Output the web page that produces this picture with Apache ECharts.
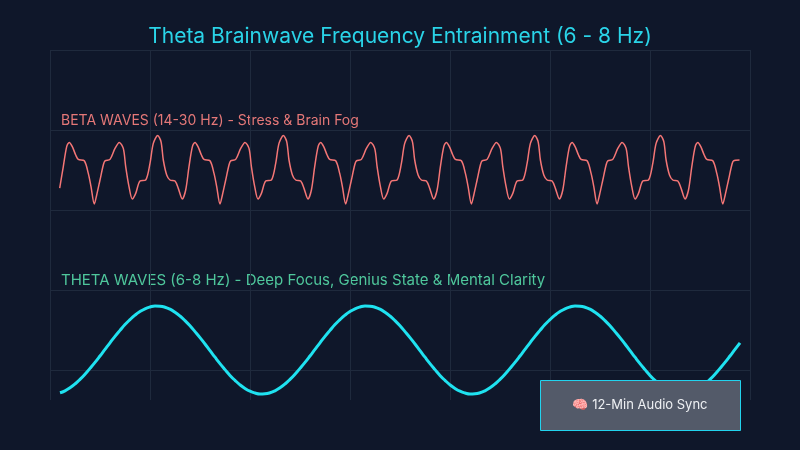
<!DOCTYPE html>
<html>
<head>
<meta charset="utf-8">
<title>Theta Brainwave Frequency Entrainment</title>
<script src="https://cdn.jsdelivr.net/npm/echarts@6/dist/echarts.min.js"></script>
<style>
  html, body { margin: 0; padding: 0; background: #0f172a; }
  #chart { width: 800px; height: 450px; }
</style>
</head>
<body>
<div id="chart"></div>
<script>
// texts
const titleText = 'Theta Brainwave Frequency Entrainment (6 - 8 Hz)';
const betaLabel = 'BETA WAVES (14-30 Hz) - Stress & Brain Fog';
const thetaLabel = 'THETA WAVES (6-8 Hz) - Deep Focus, Genius State & Mental Clarity';
const buttonLabel = '🧠 12-Min Audio Sync';

// [time, level]
const betaWave = [
  [9.7, 9.09], [13.3, 10.17], [16.7, 11.17],
  [19.3, 11.38], [22.3, 11.17], [25.7, 10.75], [28.3, 10.53], [34.3, 10.46], [38.3, 9.83], [41.0, 9.17], [44.3, 8.3],
  [46.7, 8.75], [50.0, 9.5], [53.3, 10.25], [55.0, 10.46], [60.0, 10.53], [65.0, 11.08], [69.3, 11.38], [73.3, 11.08],
  [75.7, 10.17], [79.0, 9.17], [82.3, 8.55], [85.7, 8.83], [90.0, 9.45], [95.7, 9.5], [100.0, 10.33], [103.3, 11.33],
  [107.7, 11.72], [111.0, 11.42], [113.3, 10.5], [116.7, 9.75], [120.0, 9.5], [125.0, 9.45], [128.3, 9.08], [132.3, 8.55],
  [135.7, 9.0], [139.0, 10.17], [142.4, 11.17],
  [145.0, 11.38], [148.0, 11.17], [151.4, 10.75], [154.0, 10.53], [160.0, 10.46], [164.0, 9.83], [166.7, 9.17], [170.0, 8.3],
  [172.4, 8.75], [175.7, 9.5], [179.0, 10.25], [180.7, 10.46], [185.7, 10.53], [190.7, 11.08], [195.0, 11.38], [199.0, 11.08],
  [201.4, 10.17], [204.7, 9.17], [208.0, 8.55], [211.4, 8.83], [215.7, 9.45], [221.4, 9.5], [225.7, 10.33], [229.0, 11.33],
  [233.4, 11.72], [236.7, 11.42], [239.0, 10.5], [242.4, 9.75], [245.7, 9.5], [250.7, 9.45], [254.0, 9.08], [258.0, 8.55],
  [261.4, 9.0], [264.7, 10.17], [268.1, 11.17],
  [270.7, 11.38], [273.7, 11.17], [277.1, 10.75], [279.7, 10.53], [285.7, 10.46], [289.7, 9.83], [292.4, 9.17], [295.7, 8.3],
  [298.1, 8.75], [301.4, 9.5], [304.7, 10.25], [306.4, 10.46], [311.4, 10.53], [316.4, 11.08], [320.7, 11.38], [324.7, 11.08],
  [327.1, 10.17], [330.4, 9.17], [333.7, 8.55], [337.1, 8.83], [341.4, 9.45], [347.1, 9.5], [351.4, 10.33], [354.7, 11.33],
  [359.1, 11.72], [362.4, 11.42], [364.7, 10.5], [368.1, 9.75], [371.4, 9.5], [376.4, 9.45], [379.7, 9.08], [383.7, 8.55],
  [387.1, 9.0], [390.4, 10.17], [393.8, 11.17],
  [396.4, 11.38], [399.4, 11.17], [402.8, 10.75], [405.4, 10.53], [411.4, 10.46], [415.4, 9.83], [418.1, 9.17], [421.4, 8.3],
  [423.8, 8.75], [427.1, 9.5], [430.4, 10.25], [432.1, 10.46], [437.1, 10.53], [442.1, 11.08], [446.4, 11.38], [450.4, 11.08],
  [452.8, 10.17], [456.1, 9.17], [459.4, 8.55], [462.8, 8.83], [467.1, 9.45], [472.8, 9.5], [477.1, 10.33], [480.4, 11.33],
  [484.8, 11.72], [488.1, 11.42], [490.4, 10.5], [493.8, 9.75], [497.1, 9.5], [502.1, 9.45], [505.4, 9.08], [509.4, 8.55],
  [512.8, 9.0], [516.1, 10.17], [519.5, 11.17],
  [522.1, 11.38], [525.1, 11.17], [528.5, 10.75], [531.1, 10.53], [537.1, 10.46], [541.1, 9.83], [543.8, 9.17], [547.1, 8.3],
  [549.5, 8.75], [552.8, 9.5], [556.1, 10.25], [557.8, 10.46], [562.8, 10.53], [567.8, 11.08], [572.1, 11.38], [576.1, 11.08],
  [578.5, 10.17], [581.8, 9.17], [585.1, 8.55], [588.5, 8.83], [592.8, 9.45], [598.5, 9.5], [602.8, 10.33], [606.1, 11.33],
  [610.5, 11.72], [613.8, 11.42], [616.1, 10.5], [619.5, 9.75], [622.8, 9.5], [627.8, 9.45], [631.1, 9.08], [635.1, 8.55],
  [638.5, 9.0], [641.8, 10.17], [645.2, 11.17],
  [647.8, 11.38], [650.8, 11.17], [654.2, 10.75], [656.8, 10.53], [662.8, 10.46], [666.8, 9.83], [669.5, 9.17], [672.8, 8.3],
  [675.2, 8.75], [678.5, 9.5], [681.8, 10.25], [683.5, 10.46], [689.5, 10.5]
];

// theta sampled every 5 time units
const thetaTime = [
  10, 15, 20, 25, 30, 35, 40, 45, 50, 55, 60, 65, 70, 75, 80, 85, 90, 95, 100, 105, 110,
  115, 120, 125, 130, 135, 140, 145, 150, 155, 160, 165, 170, 175, 180, 185, 190, 195, 200, 205, 210, 215,
  220, 225, 230, 235, 240, 245, 250, 255, 260, 265, 270, 275, 280, 285, 290, 295, 300, 305, 310, 315, 320,
  325, 330, 335, 340, 345, 350, 355, 360, 365, 370, 375, 380, 385, 390, 395, 400, 405, 410, 415, 420, 425,
  430, 435, 440, 445, 450, 455, 460, 465, 470, 475, 480, 485, 490, 495, 500, 505, 510, 515, 520, 525, 530,
  535, 540, 545, 550, 555, 560, 565, 570, 575, 580, 585, 590, 595, 600, 605, 610, 615, 620, 625, 630, 635,
  640, 645, 650, 655, 660, 665, 670, 675, 680, 685, 690
];
const thetaLevel = [
  -1.14, -1.04, -0.89, -0.70, -0.47, -0.21, 0.08, 0.38, 0.70, 1.03, 1.36, 1.68, 1.98, 2.27, 2.52, 2.74, 2.92, 3.06, 3.15, 3.20, 3.19,
  3.14, 3.04, 2.89, 2.70, 2.47, 2.21, 1.92, 1.62, 1.30, 0.97, 0.64, 0.32, 0.02, -0.27, -0.52, -0.74, -0.92, -1.06, -1.15, -1.20, -1.19,
  -1.14, -1.04, -0.89, -0.70, -0.47, -0.21, 0.08, 0.38, 0.70, 1.03, 1.36, 1.68, 1.98, 2.27, 2.52, 2.74, 2.92, 3.06, 3.15, 3.20, 3.19,
  3.14, 3.04, 2.89, 2.70, 2.47, 2.21, 1.92, 1.62, 1.30, 0.97, 0.64, 0.32, 0.02, -0.27, -0.52, -0.74, -0.92, -1.06, -1.15, -1.20, -1.19,
  -1.14, -1.04, -0.89, -0.70, -0.47, -0.21, 0.08, 0.38, 0.70, 1.03, 1.36, 1.68, 1.98, 2.27, 2.52, 2.74, 2.92, 3.06, 3.15, 3.20, 3.19,
  3.14, 3.04, 2.89, 2.70, 2.47, 2.21, 1.92, 1.62, 1.30, 0.97, 0.64, 0.32, 0.02, -0.27, -0.52, -0.74, -0.92, -1.06, -1.15, -1.20, -1.19,
  -1.14, -1.04, -0.89, -0.70, -0.47, -0.21, 0.08, 0.38, 0.70, 1.03, 1.36
];

const chart = echarts.init(document.getElementById('chart'));

const gridColor = '#1f2a3d';
const font = 'Inter, "Noto Sans", sans-serif';

const option = {
  backgroundColor: '#0f172a',
  animation: false,
  title: {
    text: titleText,
    left: 'center',
    top: 21,
    textStyle: {color: '#2ad4e8', fontSize: 21, fontWeight: 'normal', fontFamily: font}
  },
  grid: {left: 50, right: 50, top: 50, bottom: 50},
  xAxis: {
    type: 'value',
    min: 0,
    max: 700,
    interval: 100,
    axisLine: {show: false},
    axisTick: {show: false},
    axisLabel: {show: false},
    splitLine: {lineStyle: {color: gridColor, width: 1}}
  },
  yAxis: {
    type: 'value',
    min: -1.5,
    max: 16,
    minInterval: 4,
    maxInterval: 4,
    axisLine: {show: false},
    axisTick: {show: false},
    axisLabel: {show: false},
    splitLine: {showMinLine: false, lineStyle: {color: gridColor, width: 1}}
  },
  series: [
    {
      name: 'Beta',
      type: 'line',
      data: betaWave,
      smooth: 0.3,
      showSymbol: false,
      lineStyle: {color: '#f47676', width: 1.5}
    },
    {
      name: 'Theta',
      type: 'line',
      data: thetaTime.map((t, i) => [t, thetaLevel[i]]),
      smooth: true,
      showSymbol: false,
      lineStyle: {color: '#1fe2f0', width: 3}
    }
  ],
  graphic: [
    {
      type: 'text',
      left: 61,
      top: 114,
      style: {text: betaLabel, fill: '#e57878', font: '14px ' + font}
    },
    {
      type: 'text',
      left: 61,
      top: 273,
      style: {text: thetaLabel, fill: '#4fc79c', font: '15px ' + font}
    },
    {
      type: 'rect',
      left: 540,
      top: 380,
      z: 100,
      shape: {width: 200, height: 50},
      style: {fill: '#535a69', stroke: '#22d3ee', lineWidth: 1}
    },
    {
      type: 'text',
      x: 640,
      y: 405,
      z: 101,
      style: {text: buttonLabel, fill: '#eef0f3', font: '13px ' + font, align: 'center', verticalAlign: 'middle'}
    }
  ]
};

chart.setOption(option);
</script>
</body>
</html>
